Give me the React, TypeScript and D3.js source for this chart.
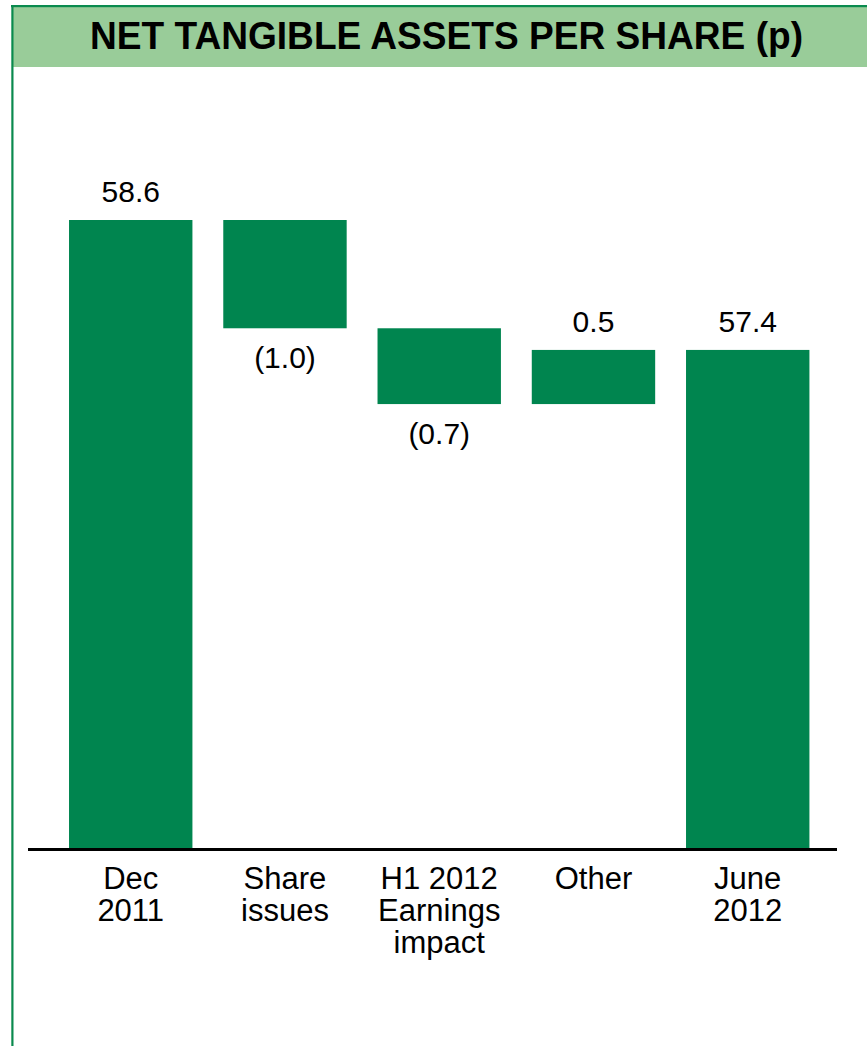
import React from "react";
import * as d3 from "d3";

const categories: string[][] = [
  ["Dec", "2011"],
  ["Share", "issues"],
  ["H1 2012", "Earnings", "impact"],
  ["Other"],
  ["June", "2012"],
];
const kinds = ["total", "delta", "delta", "delta", "total"];
const values = [58.6, -1.0, -0.7, 0.5, 57.4];
const valueLabels = ["58.6", "(1.0)", "(0.7)", "0.5", "57.4"];
const yDomain = [52.8, 58.6];
const title = "NET TANGIBLE ASSETS PER SHARE (p)";

const W = 867;
const H = 1046;
const GREEN = "#00854F";
const FONT = "'Liberation Sans', Arial, Helvetica, sans-serif";

export default function App() {
  const x = d3
    .scaleBand<number>()
    .domain(d3.range(values.length))
    .range([53.6, 824.85])
    .paddingInner(0.2)
    .paddingOuter(0.1);
  const y = d3.scaleLinear().domain(yDomain).range([848, 220]);

  let running = 0;
  const bars = values.map((v, i) => {
    let lo: number, hi: number;
    if (kinds[i] === "total") {
      lo = yDomain[0];
      hi = v;
      running = v;
    } else {
      const start = running;
      running = running + v;
      lo = Math.min(start, running);
      hi = Math.max(start, running);
    }
    return { i, lo, hi, v, kind: kinds[i] };
  });

  return (
    <svg
      width={W}
      height={H}
      style={{ position: "absolute", left: 0, top: 0, display: "block", background: "#fff" }}
    >
      {/* header band */}
      <rect x={13} y={7} width={W - 13} height={60} fill="#99CC99" />
      <rect x={11} y={5} width={W - 11} height={2.2} fill="#0A8A4E" />
      <rect x={11.3} y={5} width={2.2} height={H - 5} fill="#0A8A4E" />
      <text
        x={446.5}
        y={49.3}
        textAnchor="middle"
        fontFamily={FONT}
        fontWeight="bold"
        fontSize={38}
        textLength={713}
        lengthAdjust="spacingAndGlyphs"
        fill="#000"
      >
        {title}
      </text>

      {/* bars */}
      {bars.map((b) => (
        <rect
          key={b.i}
          x={x(b.i)!}
          y={y(b.hi)}
          width={x.bandwidth()}
          height={y(b.lo) - y(b.hi)}
          fill={GREEN}
        />
      ))}

      {/* value labels */}
      {bars.map((b) => {
        const cx = x(b.i)! + x.bandwidth() / 2;
        const above = b.kind === "total" || b.v > 0;
        const yy = above ? y(b.hi) - 18 : y(b.lo) + 40;
        return (
          <text
            key={"v" + b.i}
            x={cx}
            y={yy}
            textAnchor="middle"
            fontFamily={FONT}
            fontSize={30}
            fill="#000"
          >
            {valueLabels[b.i]}
          </text>
        );
      })}

      {/* axis line */}
      <line x1={28} x2={837} y1={849.5} y2={849.5} stroke="#000" strokeWidth={3} />

      {/* category labels */}
      {categories.map((lines, i) => {
        const cx = x(i)! + x.bandwidth() / 2;
        return (
          <text
            key={"c" + i}
            x={cx}
            textAnchor="middle"
            fontFamily={FONT}
            fontSize={31}
            fill="#000"
          >
            {lines.map((l, j) => (
              <tspan key={j} x={cx} y={889 + j * 32}>
                {l}
              </tspan>
            ))}
          </text>
        );
      })}
    </svg>
  );
}
